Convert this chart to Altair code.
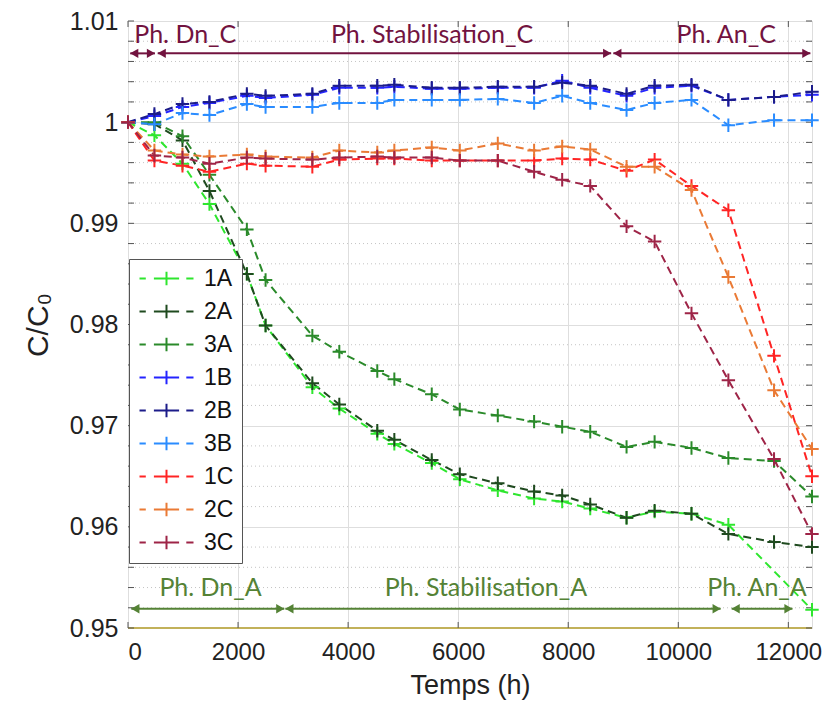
import altair as alt
import pandas as pd
import numpy as np

# ---------------- data ----------------
times = [0, 480, 990, 1480, 2160, 2500, 3350, 3840, 4530, 4840, 5520, 6030,
         6720, 7380, 7890, 8400, 9060, 9570, 10240, 10910, 11740, 12430]

s1A = [1.0, 0.9987, 0.9959, 0.9919, 0.9850, 0.9799, 0.9738, 0.9717, 0.9692, 0.9682, 0.9663, 0.9647,
       0.9636, 0.9628, 0.9625, 0.9618, 0.9609, 0.9615, 0.9613, 0.9602, None, 0.9518]
s2A = [1.0, 0.9998, 0.9982, 0.9932, 0.9850, 0.9799, 0.9742, 0.9721, 0.9695, 0.9686, 0.9666, 0.9652,
       0.9643, 0.9635, 0.9631, 0.9622, 0.9609, 0.9616, 0.9613, 0.9593, 0.9585, 0.9580]
s3A = [1.0, 1.0, 0.9986, 0.9948, 0.9894, 0.9844, 0.9789, 0.9773, 0.9754, 0.9746, 0.9731, 0.9716,
       0.9710, 0.9704, 0.9699, 0.9694, 0.9679, 0.9684, 0.9678, 0.9668, 0.9665, 0.9630]
s1B = [1.0, 1.0006, 1.0015, 1.0019, 1.0026, 1.0024, 1.0027, 1.0034, 1.0034, 1.0035, 1.0033, 1.0033,
       1.0034, 1.0034, 1.0041, 1.0034, 1.0026, 1.0034, 1.0036, 1.0022, 1.0025, 1.0027]
s2B = [1.0, 1.0008, 1.0018, 1.0020, 1.0028, 1.0026, 1.0028, 1.0036, 1.0036, 1.0037, 1.0034, 1.0034,
       1.0035, 1.0035, 1.0039, 1.0036, 1.0028, 1.0036, 1.0037, 1.0022, 1.0025, 1.0030]
s3B = [1.0, 0.9998, 1.0009, 1.0007, 1.0018, 1.0015, 1.0015, 1.0019, 1.0019, 1.0022, 1.0022, 1.0022,
       1.0023, 1.0019, 1.0026, 1.0019, 1.0012, 1.0019, 1.0022, 0.9997, 1.0002, 1.0002]
s1C = [1.0, 0.9962, 0.9957, 0.9951, 0.9959, 0.9957, 0.9956, 0.9963, 0.9964, 0.9964, 0.9962, 0.9962,
       0.9962, 0.9962, 0.9964, 0.9963, 0.9952, 0.9963, 0.9937, 0.9913, 0.9769, 0.9650]
s2C = [1.0, 0.9972, 0.9968, 0.9966, 0.9968, 0.9966, 0.9965, 0.9972, 0.9970, 0.9972, 0.9975, 0.9972,
       0.9979, 0.9972, 0.9976, 0.9973, 0.9956, 0.9956, 0.9933, 0.9847, 0.9735, 0.9677]
s3C = [1.0, 0.9967, 0.9965, 0.9959, 0.9965, 0.9964, 0.9963, 0.9965, 0.9966, 0.9965, 0.9965, 0.9962,
       0.9962, 0.9951, 0.9943, 0.9937, 0.9897, 0.9882, 0.9811, 0.9745, 0.9667, 0.9593]

series_names = ["1A", "2A", "3A", "1B", "2B", "3B", "1C", "2C", "3C"]
series_vals = [s1A, s2A, s3A, s1B, s2B, s3B, s1C, s2C, s3C]
series_colors = ["#2ee62e", "#1f4a1f", "#2a8a2a", "#2424ff", "#1c1c8a", "#2a8cff",
                 "#ff2424", "#ea7a35", "#9e2447"]

# phase annotations (C = top, A = bottom)
phaseC_text = ["Ph. Dn_C", "Ph. Stabilisation_C", "Ph. An_C"]
phaseC_text_x = [1040, 5525, 10870]
phaseC_start = [40, 540, 8820]
phaseC_end = [490, 8780, 12400]
phaseA_text = ["Ph. Dn_A", "Ph. Stabilisation_A", "Ph. An_A"]
phaseA_text_x = [1500, 6505, 11430]
phaseA_start = [60, 2860, 10970]
phaseA_end = [2840, 10770, 12075]
phaseC_text_y, phaseC_arrow_y = 1.0086, 1.0068
phaseA_text_y, phaseA_arrow_y = 0.9540, 0.9519
colorC, colorA = "#72133f", "#548235"

x_ticks = [0, 2000, 4000, 6000, 8000, 10000, 12000]
y_ticks = [0.95, 0.96, 0.97, 0.98, 0.99, 1.0, 1.01]

# ---------------- frames ----------------
rows = []
for name, vals in zip(series_names, series_vals):
    for t, v in zip(times, vals):
        if v is not None:
            rows.append({"serie": name, "t": t, "v": v})
df = pd.DataFrame(rows)

phC = pd.DataFrame({"text": phaseC_text, "t": phaseC_text_x, "t1": phaseC_start, "t2": phaseC_end})
phC["v"] = phaseC_text_y
phC["av"] = phaseC_arrow_y
phA = pd.DataFrame({"text": phaseA_text, "t": phaseA_text_x, "t1": phaseA_start, "t2": phaseA_end})
phA["v"] = phaseA_text_y
phA["av"] = phaseA_arrow_y

minor_y = [round(v, 3) for v in np.arange(0.95, 1.0101, 0.002)]
minor_df = pd.DataFrame({"v": [v for v in minor_y if abs(v * 100 - round(v * 100)) > 1e-6]})
ytick_df = pd.DataFrame({"v": minor_y})
xtick_df = pd.DataFrame({"t": x_ticks})

W, H = 684, 607
XMAX = 12430
xscale = alt.Scale(domain=[0, XMAX], nice=False, zero=False)
yscale = alt.Scale(domain=[0.95, 1.01], nice=False, zero=False)
color_scale = alt.Scale(domain=series_names, range=series_colors)

x_axis = alt.Axis(values=x_ticks, format="d", title="Temps (h)", grid=True, gridColor="#dedede",
                  gridWidth=1, ticks=False, domain=False, labelFontSize=24, labelPadding=12,
                  labelFont="Liberation Sans", titleFont="Liberation Sans", titleFontSize=27,
                  titleFontWeight="normal", titlePadding=8, labelColor="#222", titleColor="#222")
y_axis = alt.Axis(values=y_ticks, title="C/C₀", grid=True, gridColor="#dedede", gridWidth=1,
                  ticks=False, domain=False, labelFontSize=25, labelPadding=10,
                  labelFont="Liberation Sans", titleFont="Liberation Sans", titleFontSize=30,
                  titleFontWeight="normal", titlePadding=16, labelColor="#222", titleColor="#222",
                  labelExpr="datum.value == 1 ? '1' : format(datum.value, '.2f')")

plus_path = "M-1,0H1M0,-1V1"
legend_path = "M-3,0H-2.3M-1.4,0H1.4M2.2,0H3M0,-0.75V0.75"
legend = alt.Legend(orient="none", legendX=1, legendY=238, symbolType=legend_path,
                    symbolSize=324, symbolStrokeWidth=2, symbolOffset=18, symbolDash=[1, 0],
                    labelOffset=26, labelFontSize=23, labelFont="Liberation Sans",
                    labelColor="#111", rowPadding=9, padding=8,
                    strokeColor="#555", fillColor="white", symbolOpacity=1, title=None)


def X(field):
    return alt.X(field, scale=xscale, axis=x_axis)


def Y(field):
    return alt.Y(field, scale=yscale, axis=y_axis)


minor_grid = alt.Chart(minor_df).mark_rule(color="#c4c4c4", strokeDash=[1, 3], strokeWidth=1).encode(
    y=Y("v:Q"))

lines = alt.Chart(df).mark_line(strokeDash=[8, 5], strokeWidth=2).encode(
    x=X("t:Q"), y=Y("v:Q"),
    color=alt.Color("serie:N", scale=color_scale, legend=legend, title=None),
    detail="serie:N",
    order="t:Q")

points = alt.Chart(df).mark_point(shape=plus_path, size=180, filled=False, strokeWidth=2, opacity=1).encode(
    x=X("t:Q"), y=Y("v:Q"),
    color=alt.Color("serie:N", scale=color_scale, legend=legend, title=None))

# inward ticks
tick_len = 6
yt_left = alt.Chart(ytick_df).mark_rule(color="#555").encode(
    y=Y("v:Q"), x=alt.value(0), x2=alt.value(tick_len))
yt_right = alt.Chart(ytick_df).mark_rule(color="#555").encode(
    y=Y("v:Q"), x=alt.value(W - tick_len), x2=alt.value(W))
xt_bot = alt.Chart(xtick_df).mark_rule(color="#555").encode(
    x=X("t:Q"), y=alt.value(H), y2=alt.value(H - tick_len))
xt_top = alt.Chart(xtick_df).mark_rule(color="#555").encode(
    x=X("t:Q"), y=alt.value(0), y2=alt.value(tick_len))
bottom_line = alt.Chart(pd.DataFrame({"v": [0.95]})).mark_rule(color="#c2b15a", strokeWidth=2).encode(
    y=Y("v:Q"))


def phase_layers(frame, col):
    ln = alt.Chart(frame).mark_rule(strokeWidth=2, color=col).encode(
        x=X("t1:Q"), x2="t2:Q", y=Y("av:Q"))
    hl = alt.Chart(frame).mark_point(shape="triangle-left", size=90, filled=True, opacity=1,
                                     color=col, xOffset=4).encode(x=X("t1:Q"), y=Y("av:Q"))
    hr = alt.Chart(frame).mark_point(shape="triangle-right", size=90, filled=True, opacity=1,
                                     color=col, xOffset=-4).encode(x=X("t2:Q"), y=Y("av:Q"))
    tx = alt.Chart(frame).mark_text(font="Lato", fontSize=25, baseline="middle", align="center",
                                    color=col).encode(x=X("t:Q"), y=Y("v:Q"), text="text:N")
    return [ln, hl, hr, tx]


chart = alt.layer(
    minor_grid, bottom_line, yt_left, yt_right, xt_bot, xt_top,
    lines, points, *phase_layers(phC, colorC), *phase_layers(phA, colorA)
).properties(
    width=W, height=H,
    autosize=alt.AutoSizeParams(type="none"),
    padding={"left": 120, "top": 13, "right": 11, "bottom": 75},
).configure_view(stroke="#5a5a5a", strokeWidth=1).configure(background="white")

chart.save("out.html", embed_options={"renderer": "svg", "actions": False})
